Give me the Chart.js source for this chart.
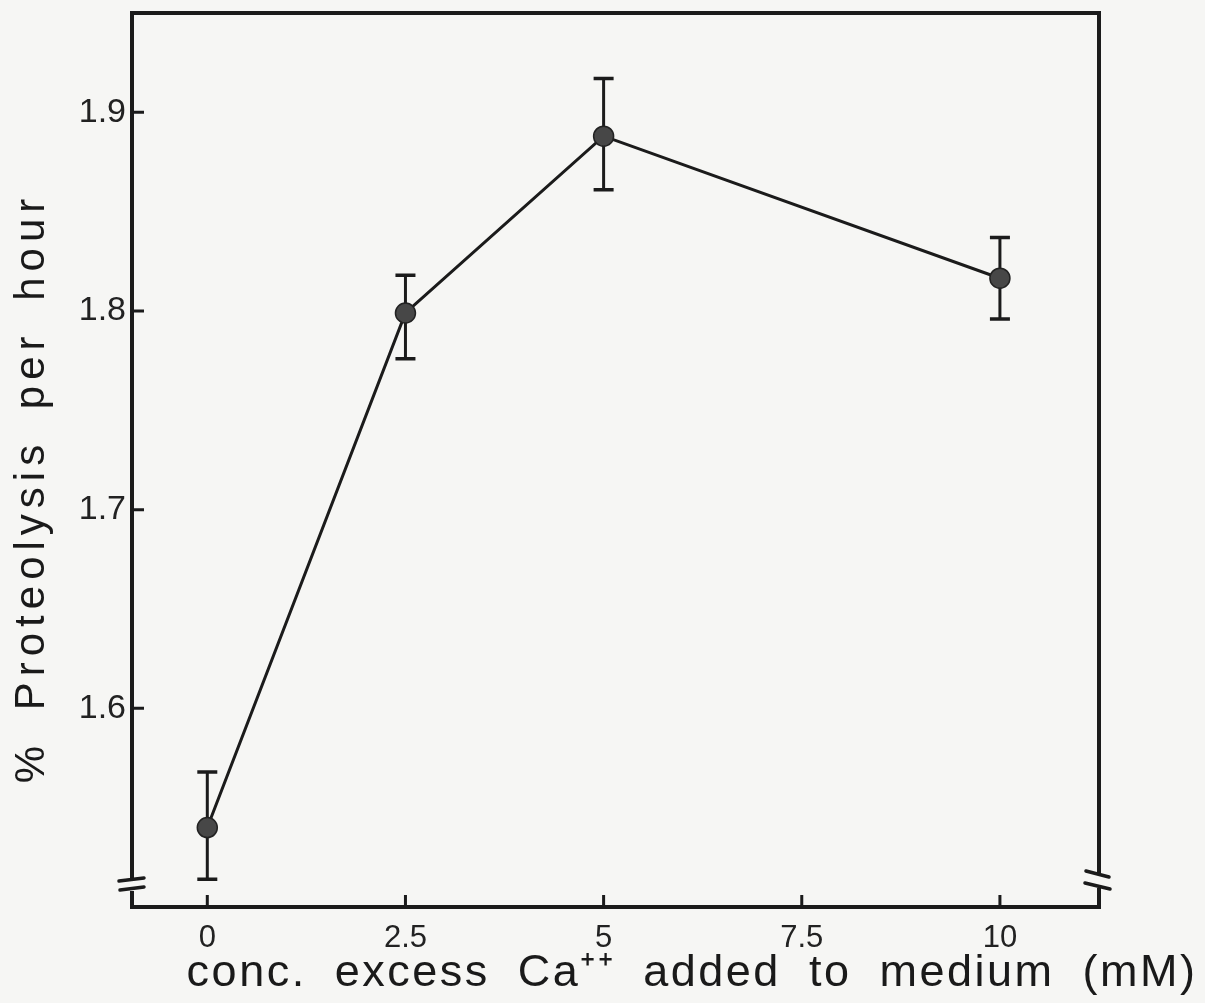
<!DOCTYPE html>
<html>
<head>
<meta charset="utf-8">
<script src="https://cdn.jsdelivr.net/npm/chart.js@4/dist/chart.umd.min.js"></script>
<style>
  html, body { margin: 0; padding: 0; background: #f6f6f4; }
  #wrap { width: 1205px; height: 1003px; }
</style>
</head>
<body>
<div id="wrap"><canvas id="c" width="1205" height="1003"></canvas></div>
<script>
// ---- data ----
const concentrations = [0, 2.5, 5, 10];            // mM excess Ca++
const proteolysis    = [1.540, 1.799, 1.888, 1.8165]; // % per hour
const errUpper       = [1.568, 1.818, 1.917, 1.837];
const errLower       = [1.514, 1.776, 1.861, 1.796];
const xTickValues    = [0, 2.5, 5, 7.5, 10];
const yTickValues    = [1.6, 1.7, 1.8, 1.9];
const xTitle = 'conc. excess Ca\u207A\u207A added to medium (mM)';
const yTitle = '% Proteolysis per hour';

const INK = '#1b1b1b';

const decorPlugin = {
  id: 'decor',
  beforeDatasetsDraw(chart) {
    const ctx = chart.ctx;
    const xs = chart.scales.x, ys = chart.scales.y;
    ctx.save();
    ctx.strokeStyle = INK;
    ctx.lineCap = 'butt';
    // error bars
    for (let i = 0; i < concentrations.length; i++) {
      const px = xs.getPixelForValue(concentrations[i]);
      const pt = ys.getPixelForValue(errUpper[i]);
      const pb = ys.getPixelForValue(errLower[i]);
      ctx.lineWidth = 3;
      ctx.beginPath(); ctx.moveTo(px, pt); ctx.lineTo(px, pb); ctx.stroke();
      ctx.lineWidth = 3.5;
      ctx.beginPath();
      ctx.moveTo(px - 10, pt); ctx.lineTo(px + 10, pt);
      ctx.moveTo(px - 10, pb); ctx.lineTo(px + 10, pb);
      ctx.stroke();
    }
    ctx.restore();
  },
  afterDraw(chart) {
    const ctx = chart.ctx;
    const a = chart.chartArea;
    const xs = chart.scales.x, ys = chart.scales.y;
    ctx.save();
    ctx.strokeStyle = INK;
    ctx.lineWidth = 4;
    ctx.lineCap = 'square';
    // frame with axis breaks near the bottom
    ctx.beginPath();
    ctx.moveTo(a.left, a.bottom - 30);
    ctx.lineTo(a.left, a.top);
    ctx.lineTo(a.right, a.top);
    ctx.lineTo(a.right, a.bottom - 34);
    ctx.stroke();
    ctx.beginPath();
    ctx.moveTo(a.left, a.bottom - 14);
    ctx.lineTo(a.left, a.bottom);
    ctx.lineTo(a.right, a.bottom);
    ctx.lineTo(a.right, a.bottom - 17);
    ctx.stroke();
    // break marks
    ctx.lineWidth = 3.5;
    ctx.lineCap = 'round';
    ctx.beginPath();
    ctx.moveTo(a.left - 13, a.bottom - 26); ctx.lineTo(a.left + 12, a.bottom - 29);
    ctx.moveTo(a.left - 12, a.bottom - 17); ctx.lineTo(a.left + 12, a.bottom - 20);
    ctx.moveTo(a.right - 13, a.bottom - 36); ctx.lineTo(a.right + 10, a.bottom - 30);
    ctx.moveTo(a.right - 14, a.bottom - 24); ctx.lineTo(a.right + 11, a.bottom - 18);
    ctx.stroke();
    // inward ticks
    ctx.lineWidth = 3;
    ctx.lineCap = 'butt';
    ctx.beginPath();
    xTickValues.forEach(v => {
      const px = xs.getPixelForValue(v);
      ctx.moveTo(px, a.bottom); ctx.lineTo(px, a.bottom - 12);
    });
    yTickValues.forEach(v => {
      const py = ys.getPixelForValue(v);
      ctx.moveTo(a.left, py); ctx.lineTo(a.left + 12, py);
    });
    ctx.stroke();
    // axis titles
    ctx.fillStyle = '#1a1a1a';
    ctx.textBaseline = 'alphabetic';
    ctx.font = '45px "Liberation Sans", Arial, sans-serif';
    if ('letterSpacing' in ctx) ctx.letterSpacing = '2.5px';
    if ('wordSpacing' in ctx) ctx.wordSpacing = '13px';
    ctx.textAlign = 'center';
    ctx.fillText(xTitle, 692, 986);
    ctx.font = '42px "Liberation Sans", Arial, sans-serif';
    if ('letterSpacing' in ctx) ctx.letterSpacing = '6px';
    if ('wordSpacing' in ctx) ctx.wordSpacing = '12px';
    ctx.translate(44, 488);
    ctx.rotate(-Math.PI / 2);
    ctx.fillText(yTitle, 0, 0);
    ctx.restore();
  }
};

new Chart(document.getElementById('c'), {
  type: 'scatter',
  data: {
    datasets: [{
      data: concentrations.map((x, i) => ({ x: x, y: proteolysis[i] })),
      showLine: true,
      borderColor: INK,
      borderWidth: 3,
      pointRadius: 10,
      pointBackgroundColor: '#474747',
      pointBorderColor: '#222',
      pointBorderWidth: 1.5,
      tension: 0
    }]
  },
  options: {
    responsive: false,
    animation: false,
    devicePixelRatio: 1,
    layout: { padding: { top: 13, right: 106, left: 0, bottom: 0 } },
    plugins: { legend: { display: false }, tooltip: { enabled: false } },
    scales: {
      x: {
        type: 'linear',
        min: -0.95, max: 11.25,
        grid: { display: false, drawTicks: false },
        border: { display: false },
        afterBuildTicks: s => { s.ticks = xTickValues.map(v => ({ value: v })); },
        afterFit: s => { s.height = 96; s.paddingLeft = 0; s.paddingRight = 0; },
        ticks: {
          padding: 13,
          color: '#222',
          font: { family: '"Liberation Sans", Arial, sans-serif', size: 31 },
          callback: v => String(v),
          maxRotation: 0, autoSkip: false
        }
      },
      y: {
        min: 1.5, max: 1.95,
        grid: { display: false, drawTicks: false },
        border: { display: false },
        afterBuildTicks: s => { s.ticks = yTickValues.map(v => ({ value: v })); },
        afterFit: s => { s.width = 132; s.paddingTop = 0; s.paddingBottom = 0; },
        ticks: {
          padding: 6,
          color: '#222',
          font: { family: '"Liberation Sans", Arial, sans-serif', size: 34 },
          callback: v => Number(v).toFixed(1)
        }
      }
    }
  },
  plugins: [decorPlugin]
});
</script>
</body>
</html>
